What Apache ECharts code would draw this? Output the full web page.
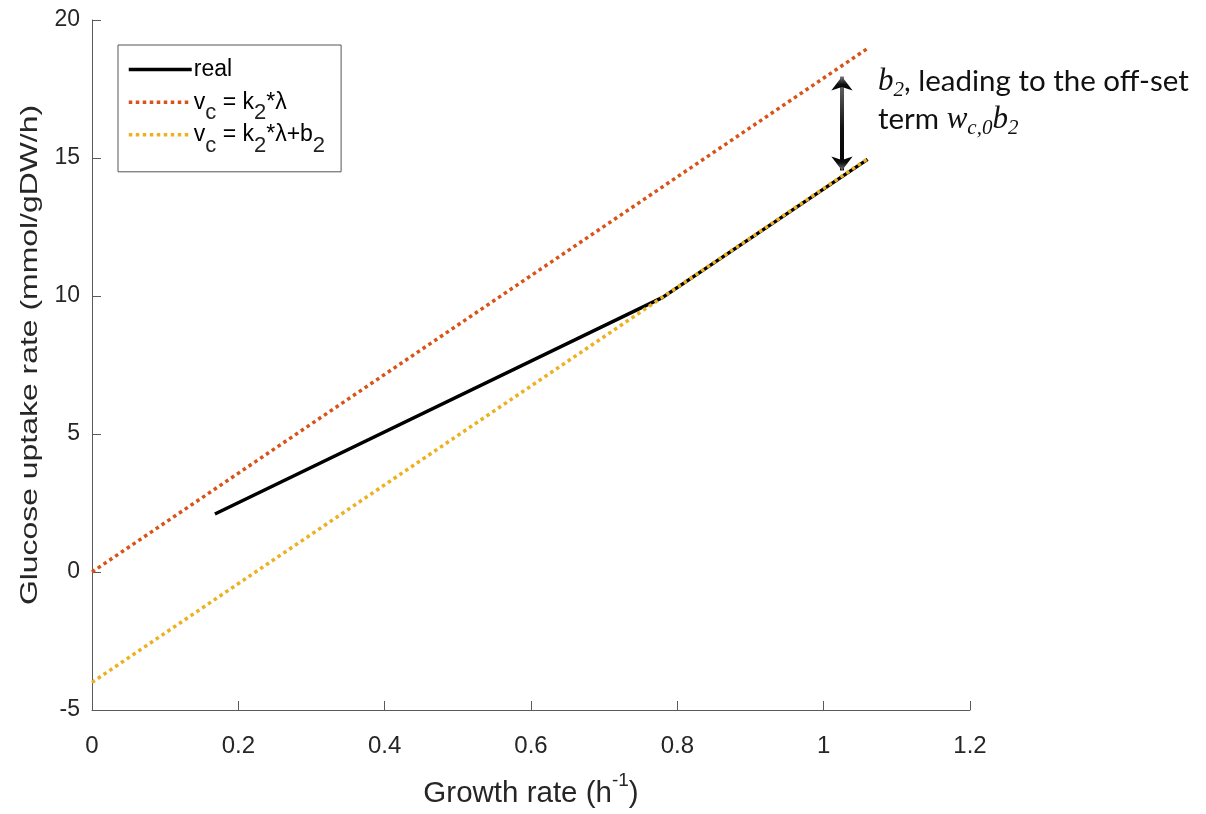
<!DOCTYPE html>
<html>
<head>
<meta charset="utf-8">
<script src="https://cdn.jsdelivr.net/npm/echarts@6/dist/echarts.min.js"></script>
<style>
  html, body { margin: 0; padding: 0; background: #fff; }
  #chart { width: 1206px; height: 814px; }
</style>
</head>
<body>
<div id="chart"></div>
<script>
// measured curve
const realX = [0.168, 0.78, 1.06];
const realY = [2.1, 9.95, 14.95];
// v_c = k2 * lambda
const k2X = [0, 1.06];
const k2Y = [0, 18.97];
// v_c = k2 * lambda + b2
const k2bX = [0, 1.06];
const k2bY = [-4, 14.97];
// offset arrow (data coords)
const arrowX = 1.025;
const arrowY = [17.95, 14.55];

function pairs(xs, ys) {
  return xs.map((x, i) => [x, ys[i]]);
}

const myChart = echarts.init(document.getElementById("chart"));

const axisColor = "#5a5a5a";
const textColor = "#262626";
const font = "'Liberation Sans', Arial, sans-serif";

const option = {
  animation: false,
  backgroundColor: "#fff",
  grid: { left: 92, top: 20, right: 236, bottom: 102 },
  xAxis: {
    type: "value",
    min: 0,
    max: 1.2,
    interval: 0.2,
    name: "{t|Growth rate (h}{sup|-1}{t|)}",
    nameLocation: "middle",
    nameGap: 61,
    nameTextStyle: {
      rich: {
        t: { fontSize: 29.5, color: textColor, fontFamily: font, lineHeight: 38, verticalAlign: "bottom" },
        sup: { fontSize: 19, color: textColor, fontFamily: font, lineHeight: 38, verticalAlign: "top" }
      }
    },
    axisLine: { onZero: false, lineStyle: { color: axisColor, width: 1 } },
    axisTick: { inside: true, length: 9, lineStyle: { color: axisColor } },
    axisLabel: {
      fontSize: 24,
      color: textColor,
      fontFamily: font,
      margin: 24,
      formatter: (v) => String(+v.toFixed(1))
    },
    splitLine: { show: false }
  },
  yAxis: {
    type: "value",
    min: -5,
    max: 20,
    interval: 5,
    axisLine: { show: true, onZero: false, lineStyle: { color: axisColor, width: 1 } },
    axisTick: { show: true, inside: true, length: 9, lineStyle: { color: axisColor } },
    axisLabel: { fontSize: 23, color: textColor, fontFamily: font, margin: 12 },
    splitLine: { show: false }
  },
  legend: {
    orient: "vertical",
    left: 118,
    top: 45,
    padding: [7, 16, 15, 9],
    itemGap: -7,
    itemWidth: 63,
    itemHeight: 44,
    borderColor: "#555",
    borderWidth: 1,
    borderRadius: 0,
    backgroundColor: "#fff",
    itemStyle: { opacity: 0 },
    lineStyle: { width: 3.5 },
    data: ["real", "k2", "k2b"],
    formatter: function (name) {
      if (name === "real") return "{t|real}{sub| }";
      if (name === "k2") return "{t|v}{sub|c}{t| = k}{sub|2}{t|*λ}";
      return "{t|v}{sub|c}{t| = k}{sub|2}{t|*λ+b}{sub|2}";
    },
    textStyle: {
      padding: [0, 0, 0, -3],
      rich: {
        t: { fontSize: 23, color: "#000", fontFamily: font, lineHeight: 44, verticalAlign: "middle" },
        sub: { fontSize: 22, color: "#222", fontFamily: font, lineHeight: 44, verticalAlign: "bottom" }
      }
    }
  },
  series: [
    {
      name: "real",
      type: "line",
      data: pairs(realX, realY),
      showSymbol: false,
      symbol: "none",
      lineStyle: { color: "#000", width: 3.5 },
      itemStyle: { color: "#000" },
      markLine: {
        silent: true,
        symbol: ["arrow", "arrow"],
        symbolSize: [16, 14],
        label: { show: false },
        lineStyle: {
          width: 4,
          type: "solid",
          color: {
            type: "linear", x: 0, y: 0, x2: 0, y2: 1,
            colorStops: [
              { offset: 0, color: "#777" },
              { offset: 0.55, color: "#111" },
              { offset: 1, color: "#000" }
            ]
          }
        },
        data: [[{ coord: [arrowX, arrowY[0]] }, { coord: [arrowX, arrowY[1]] }]]
      }
    },
    {
      name: "k2",
      type: "line",
      data: pairs(k2X, k2Y),
      showSymbol: false,
      symbol: "none",
      lineStyle: { color: "#D95319", width: 3.5, type: [3.5, 3.5], cap: "butt" },
      itemStyle: { color: "#D95319" }
    },
    {
      name: "k2b",
      type: "line",
      data: pairs(k2bX, k2bY),
      showSymbol: false,
      symbol: "none",
      lineStyle: { color: "#EDB120", width: 3.5, type: [3.5, 3.5], cap: "butt" },
      itemStyle: { color: "#EDB120" }
    }
  ],
  graphic: [
    {
      // y-axis title, stretched along its length like the reference
      type: "text",
      x: 30,
      y: 355,
      rotation: Math.PI / 2,
      scaleX: 1.33,
      style: {
        text: "Glucose uptake rate (mmol/gDW/h)",
        fontSize: 24,
        fontFamily: font,
        fill: textColor,
        align: "center",
        verticalAlign: "middle"
      }
    },
    {
      type: "text",
      left: 878,
      top: 66,
      style: {
        text: "{m|b}{s|2}{t|, leading to the off-set}\n{t|term }{m|w}{s|c,0}{m|b}{s|2}",
        rich: {
          t: { fontSize: 29.5, fontFamily: "Lato, 'Open Sans', sans-serif", fill: "#111", lineHeight: 38, verticalAlign: "middle" },
          m: { fontSize: 31, fontFamily: "'Liberation Serif', 'DejaVu Serif', serif", fontStyle: "italic", fill: "#111", lineHeight: 38, verticalAlign: "middle" },
          s: { fontSize: 21, fontFamily: "'Liberation Serif', 'DejaVu Serif', serif", fontStyle: "italic", fill: "#111", lineHeight: 38, verticalAlign: "bottom" }
        }
      }
    }
  ]
};

myChart.setOption(option);
</script>
</body>
</html>
